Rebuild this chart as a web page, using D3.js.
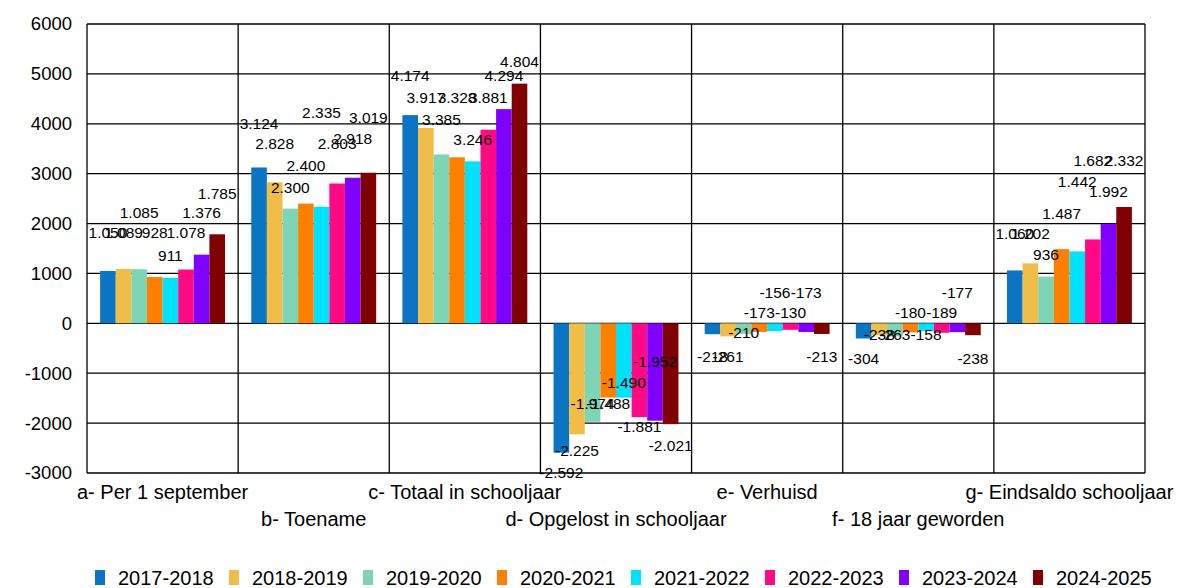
<!DOCTYPE html>
<html>
<head>
<meta charset="utf-8">
<script src="https://cdn.jsdelivr.net/npm/d3@7"></script>
<style>
  body { margin: 0; background: #fff; }
  svg text { font-family: "Liberation Sans", Arial, sans-serif; fill: #000; }
</style>
</head>
<body>
<svg id="chart" width="1182" height="588"></svg>
<script>
// categories on the x axis
const categories = [
  "a- Per 1 september",
  "b- Toename",
  "c- Totaal in schooljaar",
  "d- Opgelost in schooljaar",
  "e- Verhuisd",
  "f- 18 jaar geworden",
  "g- Eindsaldo schooljaar"
];

const seriesNames = ["2017-2018", "2018-2019", "2019-2020", "2020-2021",
                     "2021-2022", "2022-2023", "2023-2024", "2024-2025"];

// values per school year, in category order a..g
const v2017 = [1050, 3124, 4174, -2592, -218, -304, 1060];
const v2018 = [1089, 2828, 3917, -2225, -261, -238, 1202];
const v2019 = [1085, 2300, 3385, -1974, -210, -263, 936];
const v2020 = [928, 2400, 3328, -1488, -173, -180, 1487];
const v2021 = [911, 2335, 3246, -1490, -156, -158, 1442];
const v2022 = [1078, 2803, 3881, -1881, -130, -189, 1682];
const v2023 = [1376, 2918, 4294, -1952, -173, -177, 1992];
const v2024 = [1785, 3019, 4804, -2021, -213, -238, 2332];

// where the value labels sit on the value axis
const lab2017 = [1810, 4010, 4960, -3000, -660, -700, 1790];
const lab2018 = [1810, 3610, 4520, -2560, -660, -230, 1790];
const lab2019 = [2230, 2730, 4090, -1600, -190, -230, 1370];
const lab2020 = [1810, 3170, 4520, -1600, 210, 210, 2210];
const lab2021 = [1350, 4220, 3690, -1180, 610, -230, 2850];
const lab2022 = [1810, 3610, 4520, -2060, 210, 210, 3270];
const lab2023 = [2230, 3710, 4960, -760, 610, 610, 2650];
const lab2024 = [2610, 4130, 5240, -2460, -660, -700, 3270];

const yTicks = [-3000, -2000, -1000, 0, 1000, 2000, 3000, 4000, 5000, 6000];

const colors = ["#0b75c4", "#f0bd48", "#7dd5b5", "#ff8000",
                "#00e1fa", "#ff0a84", "#8000ff", "#7f0000"];

const allValues = [v2017, v2018, v2019, v2020, v2021, v2022, v2023, v2024];
const allLabels = [lab2017, lab2018, lab2019, lab2020, lab2021, lab2022, lab2023, lab2024];

const nl = d3.formatLocale({decimal: ",", thousands: ".", grouping: [3], currency: ["", ""], minus: "-"});
const fmt = nl.format(",");

const svg = d3.select("#chart");
const plotL = 87, plotR = 1145, plotT = 24, plotB = 473;

const x0 = d3.scaleBand().domain(categories).range([plotL, plotR]).paddingInner(0).paddingOuter(0);
const x1 = d3.scaleBand().domain(seriesNames).range([0, x0.bandwidth()]).paddingInner(0).paddingOuter(0.84);
const y = d3.scaleLinear().domain([-3000, 6000]).range([plotB, plotT]);

//---- grid
svg.append("g").selectAll("line").data(yTicks).join("line")
  .attr("x1", plotL).attr("x2", plotR)
  .attr("y1", d => y(d)).attr("y2", d => y(d))
  .attr("stroke", "#000").attr("stroke-width", 1.3);

const bounds = categories.map(c => x0(c)).concat([plotR]);
svg.append("g").selectAll("line").data(bounds).join("line")
  .attr("x1", d => d).attr("x2", d => d)
  .attr("y1", plotT).attr("y2", plotB)
  .attr("stroke", "#000").attr("stroke-width", 1.3);

//---- y axis labels
svg.append("g").selectAll("text").data(yTicks).join("text")
  .attr("x", 72).attr("y", d => y(d)).attr("dy", "0.35em")
  .attr("text-anchor", "end").style("font-size", "18.5px")
  .text(d => String(d));

//---- bars
const rows = [];
seriesNames.forEach((s, si) => {
  categories.forEach((c, ci) => {
    rows.push({s, si, c, v: allValues[si][ci], lab: allLabels[si][ci]});
  });
});

svg.append("g").selectAll("rect").data(rows).join("rect")
  .attr("x", d => x0(d.c) + x1(d.s))
  .attr("width", x1.bandwidth())
  .attr("y", d => y(Math.max(0, d.v)))
  .attr("height", d => Math.abs(y(d.v) - y(0)))
  .attr("fill", d => colors[d.si]);

//---- value labels
svg.append("g").selectAll("text").data(rows).join("text")
  .attr("x", d => x0(d.c) + x1(d.s) + x1.bandwidth() / 2)
  .attr("y", d => y(d.lab)).attr("dy", "0.35em")
  .attr("text-anchor", "middle").style("font-size", "15.5px")
  .text(d => fmt(d.v));

//---- category labels, staggered in two rows
svg.append("g").selectAll("text").data(categories).join("text")
  .attr("x", d => x0(d) + x0.bandwidth() / 2)
  .attr("y", (d, i) => i % 2 === 0 ? 499 : 526)
  .attr("text-anchor", "middle").style("font-size", "20px")
  .text(d => d);

//---- legend
const legend = svg.append("g").selectAll("g").data(seriesNames).join("g")
  .attr("transform", (d, i) => "translate(" + (95 + i * 134) + ",570)");
legend.append("rect").attr("width", 10).attr("height", 15).attr("fill", (d, i) => colors[i]);
legend.append("text").attr("x", 23).attr("y", 15).style("font-size", "20px").text(d => d);
</script>
</body>
</html>
